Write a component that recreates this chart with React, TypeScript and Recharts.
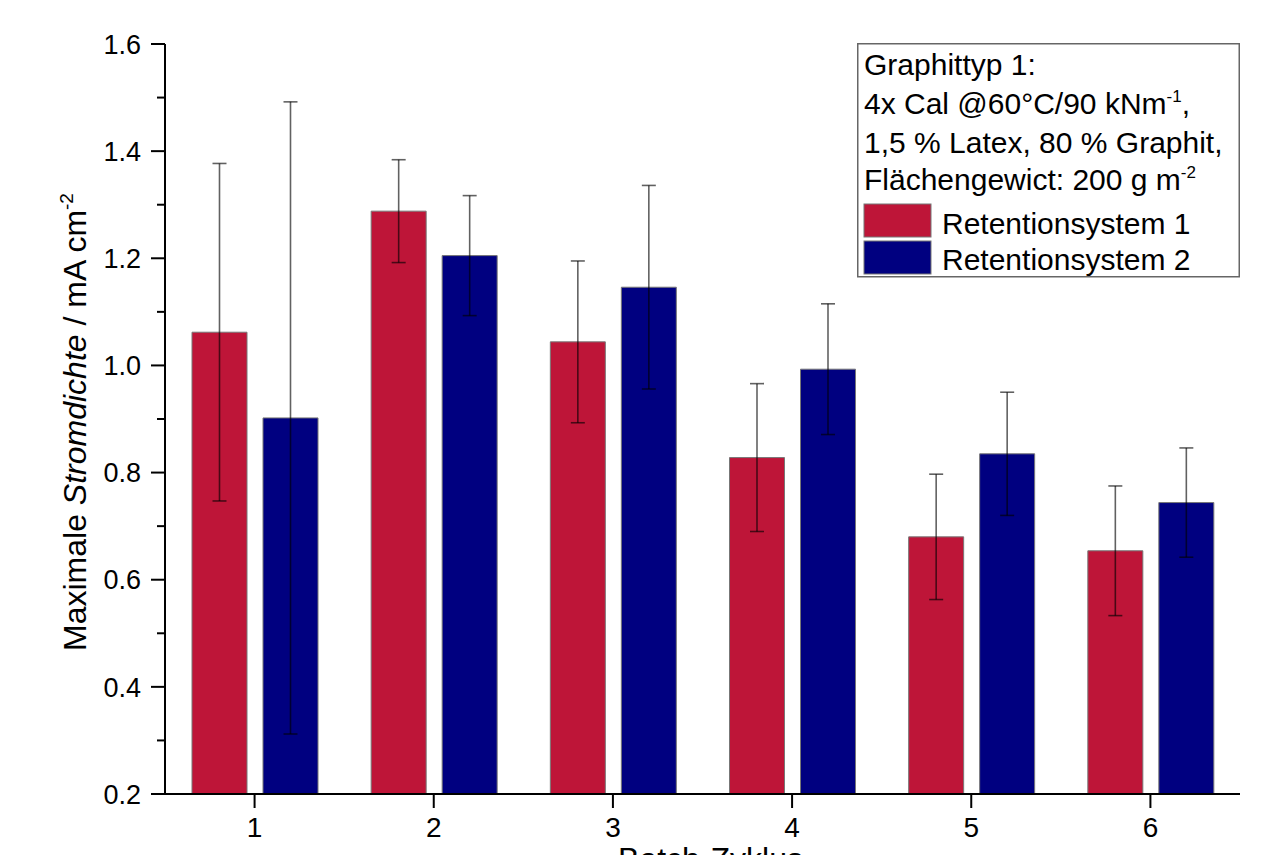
import React from 'react';
import { BarChart, Bar, XAxis, YAxis, ErrorBar, Legend } from 'recharts';

// ---- data ----
const cycles = ['1', '2', '3', '4', '5', '6'];
const ret1 = [1.062, 1.288, 1.044, 0.828, 0.68, 0.654];
const ret1Err = [0.315, 0.096, 0.151, 0.138, 0.117, 0.121];
const ret2 = [0.902, 1.205, 1.146, 0.993, 0.835, 0.744];
const ret2Err = [0.59, 0.112, 0.19, 0.122, 0.115, 0.102];

const seriesNames = ['Retentionsystem 1', 'Retentionsystem 2'];
const yMajorTicks = [0.2, 0.4, 0.6, 0.8, 1.0, 1.2, 1.4, 1.6];
const yMinorTicks = [0.3, 0.5, 0.7, 0.9, 1.1, 1.3, 1.5];
const legendTitleLines = ['Graphittyp 1:', '4x Cal @60°C/90 kNm', '1,5 % Latex, 80 % Graphit,', 'Flächengewict: 200 g m'];

const data = cycles.map((c, i) => ({
  cycle: c,
  r1: ret1[i],
  r1err: ret1Err[i],
  r2: ret2[i],
  r2err: ret2Err[i],
}));

const RED = '#BE1538';
const BLUE = '#000080';
const FONT = '"Liberation Sans", Arial, Helvetica, sans-serif';
const TICK_SIZE = 14;
const TICK_MARGIN = 10;

const YTick = (props: any) => {
  const { x, y, payload } = props;
  const v = payload.value as number;
  const major = yMajorTicks.some((t) => Math.abs(t - v) < 1e-9);
  const axisX = x + TICK_SIZE + TICK_MARGIN;
  return (
    <g>
      <line x1={axisX - (major ? TICK_SIZE : 8)} x2={axisX} y1={y} y2={y} stroke="#000" strokeWidth={2} />
      {major && (
        <text x={x} y={y} dy="0.36em" textAnchor="end" fontSize={27} fill="#000" fontFamily={FONT}>
          {v.toFixed(1)}
        </text>
      )}
    </g>
  );
};

const YLabel = (props: any) => {
  const vb = props.viewBox || { x: 0, y: 44, width: 165, height: 750 };
  const cx = vb.x + 86;
  const cy = vb.y + vb.height / 2 + 3;
  return (
    <text
      x={cx}
      y={cy}
      textAnchor="middle"
      fontSize={32}
      fill="#000"
      fontFamily={FONT}
      transform={`rotate(-90, ${cx}, ${cy})`}
    >
      <tspan>Maximale </tspan>
      <tspan fontStyle="italic">Stromdichte</tspan>
      <tspan> / mA cm</tspan>
      <tspan fontSize={19} dy={-13}>-2</tspan>
    </text>
  );
};

const XLabel = (props: any) => {
  const vb = props.viewBox || { x: 165, y: 794, width: 1075, height: 61 };
  const cx = vb.x + vb.width / 2 + 8;
  const cy = vb.y + 76;
  return (
    <text x={cx} y={cy} textAnchor="middle" fontSize={32} fill="#000" fontFamily={FONT}>
      Batch-Zyklus
    </text>
  );
};

const LegendBox = (props: any) => {
  const payload = (props.payload || []) as any[];
  const fs = 30;
  const baselines = [32, 71, 110, 147];
  return (
    <svg width={384} height={236} style={{ display: 'block', overflow: 'visible' }}>
      <rect x={0.75} y={0.75} width={381.5} height={233} fill="#fff" stroke="#666" strokeWidth={1.5} />
      <text x={7} y={baselines[0]} fontSize={fs} fill="#000" fontFamily={FONT}>{legendTitleLines[0]}</text>
      <text x={7} y={baselines[1]} fontSize={fs} fill="#000" fontFamily={FONT}>
        {legendTitleLines[1]}
        <tspan fontSize={17} dy={-12}>-1</tspan>
        <tspan dy={12}>,</tspan>
      </text>
      <text x={7} y={baselines[2]} fontSize={fs} fill="#000" fontFamily={FONT}>{legendTitleLines[2]}</text>
      <text x={7} y={baselines[3]} fontSize={fs} fill="#000" fontFamily={FONT}>
        {legendTitleLines[3]}
        <tspan fontSize={17} dy={-12}>-2</tspan>
      </text>
      {payload.map((p, i) => (
        <g key={i}>
          <rect x={7} y={161 + i * 37} width={67} height={33} fill={p.color} stroke="#777" strokeWidth={1} />
          <text x={85} y={191 + i * 36} fontSize={fs} fill="#000" fontFamily={FONT}>{p.value}</text>
        </g>
      ))}
    </svg>
  );
};

export default function App() {
  return (
    <div style={{ position: 'absolute', left: 0, top: 0, background: '#fff', fontFamily: FONT }}>
      <BarChart
        width={1273}
        height={855}
        data={data}
        margin={{ top: 44, right: 33, bottom: 0, left: 0 }}
        barSize={55}
        barGap={16}
      >
        <XAxis
          dataKey="cycle"
          height={61}
          axisLine={{ stroke: '#000', strokeWidth: 2 }}
          tickLine={{ stroke: '#000', strokeWidth: 2 }}
          tickSize={TICK_SIZE}
          tickMargin={9}
          tick={{ fontSize: 28, fill: '#000', fontFamily: FONT }}
          label={{ content: XLabel }}
        />
        <YAxis
          width={165}
          type="number"
          domain={[0.2, 1.6]}
          ticks={[...yMajorTicks, ...yMinorTicks].sort((a, b) => a - b)}
          interval={0}
          allowDataOverflow
          axisLine={{ stroke: '#000', strokeWidth: 2 }}
          tickLine={false}
          tickSize={TICK_SIZE}
          tickMargin={TICK_MARGIN}
          tick={<YTick />}
          label={{ content: YLabel }}
        />
        <Legend
          layout="vertical"
          align="center"
          verticalAlign="middle"
          content={<LegendBox />}
          wrapperStyle={{ position: 'absolute', left: 857, top: 43, width: 384, height: 236, margin: 0 }}
        />
        <Bar dataKey="r1" name={seriesNames[0]} fill={RED} stroke="#777" strokeWidth={1} isAnimationActive={false}>
          <ErrorBar dataKey="r1err" width={7} stroke="rgba(0,0,0,0.62)" strokeWidth={1.6} direction="y" isAnimationActive={false} />
        </Bar>
        <Bar dataKey="r2" name={seriesNames[1]} fill={BLUE} stroke="#777" strokeWidth={1} isAnimationActive={false}>
          <ErrorBar dataKey="r2err" width={7} stroke="rgba(0,0,0,0.62)" strokeWidth={1.6} direction="y" isAnimationActive={false} />
        </Bar>
      </BarChart>
    </div>
  );
}
